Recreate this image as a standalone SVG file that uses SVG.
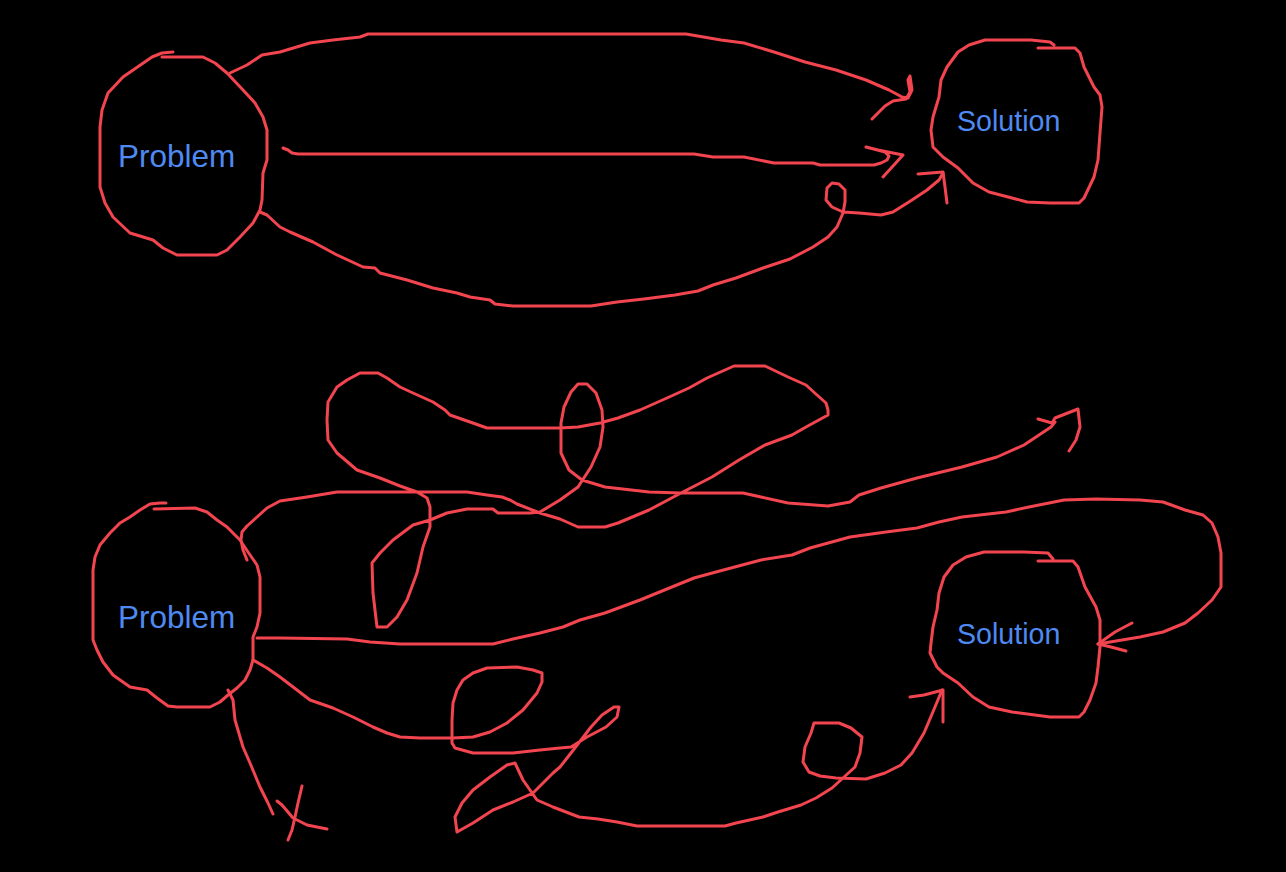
<svg xmlns="http://www.w3.org/2000/svg" width="1286" height="872" viewBox="0 0 1286 872">
<style>
.s{fill:none;stroke:#F2454F;stroke-width:3;stroke-linejoin:round;stroke-linecap:round}
.t{font-family:"Liberation Sans",Arial,sans-serif;fill:#4F8AF2}
</style>
<rect width="1286" height="872" fill="#000"/>
<g id="problem1">
<polyline class="s" points="173,52 162,53 152,57 123,77 108,93 102,110 100,127 100,187 105,203 113,217 130,233 153,240 163,248 177,255 217,255 227,250 240,237 253,223 260,210 262,200 263,173 267,160 267,130 263,117 255,103 243,90 227,73 215,63 203,57 162,57"/>
<text class="t" x="118" y="167" font-size="31.5">Problem</text>
</g>
<g id="solution1">
<polyline class="s" points="1054,45 1050,42 1031,40 985,40 969,45 958,52 947,67 941,80 939,97 933,117 931,130 933,147 943,157 958,168 973,183 989,192 1012,198 1027,202 1050,203 1079,203 1084,198 1094,177 1098,160 1100,133 1102,107 1100,95 1094,87 1084,67 1080,53 1075,48 1038,48"/>
<text class="t" x="957" y="131" font-size="28.6">Solution</text>
</g>
<g id="problem2">
<polyline class="s" points="166,503 160,503 150,504 140,510 130,517 120,523 110,533 100,545 95,557 93,570 93,640 97,650 103,662 113,675 130,687 147,690 157,698 168,706 177,707 210,707 220,702 228,695 237,688 245,680 250,670 253,660 253,650 253,637 257,627 260,613 260,577 257,565 248,552 240,540 227,527 217,520 207,512 195,508 154,509"/>
<text class="t" x="118" y="628" font-size="31.5">Problem</text>
</g>
<g id="solution2">
<polyline class="s" points="1053,559 1048,553 1024,552 984,552 966,557 953,565 944,577 939,593 937,610 933,627 931,643 930,653 937,667 943,673 958,683 973,697 989,707 1012,712 1035,715 1050,717 1079,717 1084,712 1090,700 1096,683 1098,667 1100,647 1100,620 1096,607 1085,587 1078,567 1073,561 1038,561"/>
<text class="t" x="957" y="644" font-size="28.6">Solution</text>
</g>
<g id="connectors">
<polyline class="s" points="230,73 247,65 262,55 280,52 310,43 333,40 360,37 368,34 580,34 686,34 721,40 744,43 774,52 805,62 836,70 866,80 889,90 902,97 908,98 912,90 910,76 908,80 910,92 906,99 893,101 885,106 872,119"/>
<polyline class="s" points="283,148 288,150 292,153 298,154 580,154 694,154 713,157 744,157 774,163 813,163 820,165 874,165 881,163 887,160 889,156 885,152 866,147 878,150 903,155 883,177"/>
<polyline class="s" points="260,212 267,215 280,227 290,232 313,242 337,255 363,267 375,268 380,273 407,280 433,288 457,293 470,297 490,300 495,304 513,306 591,306 617,302 644,299 675,295 698,291 713,285 736,278 763,268 790,259 813,247 828,237 837,227 843,213 845,202 845,190 839,184 832,183 827,188 826,200 832,207 843,212 859,213 881,215 893,212 912,200 927,190 939,180 943,173"/>
<polyline class="s" points="918,174 943,172 945,187 947,203"/>
<polyline class="s" points="247,560 243,550 241,540 242,532 247,526 257,517 267,508 280,501 307,497 337,492 423,492 467,492 487,495 502,497 510,500 517,504 540,513 560,519 578,527 605,527 618,523 649,510 681,493 712,477 739,460 765,445 792,435 806,427 828,415 828,410 826,403 817,395 806,385 788,377 765,366 734,366 707,378 689,388 667,398 640,410 618,418 600,423 578,427 560,428 487,428 470,422 450,415 445,410 433,402 413,393 400,387 387,378 378,373 360,373 347,380 337,387 328,402 327,420 328,440 337,453 357,470 380,478 400,486 417,492 427,498 430,507 430,527 423,547 417,573 407,600 397,617 387,627 377,627 373,593 372,563 380,553 393,540 413,525 430,520 447,513 467,509 493,509 498,513 530,513 540,512 560,500 578,487 591,467 600,447 603,427 602,410 596,393 587,384 578,384 571,392 564,407 561,423 561,453 569,470 582,480 605,487 649,492 681,493 743,493 761,497 788,503 828,506 850,502 859,495 881,488 917,478 962,467 997,457 1024,445 1051,427 1055,422"/>
<polyline class="s" points="1038,419 1052,423 1055,418 1078,409 1080,427 1076,440 1069,451"/>
<polyline class="s" points="257,638 280,638 347,639 370,642 400,644 493,644 513,639 540,633 563,627 580,620 605,613 640,600 694,578 716,572 761,560 792,555 810,548 850,537 886,532 917,528 939,522 962,517 1006,512 1029,507 1064,500 1096,499 1140,500 1163,502 1185,510 1203,515 1212,523 1218,537 1221,553 1221,587 1212,600 1198,613 1185,623 1163,632 1140,637 1122,640 1098,644"/>
<polyline class="s" points="1132,623 1115,632 1098,644 1111,647 1126,651"/>
<polyline class="s" points="253,660 267,668 280,677 297,690 310,700 333,708 353,717 373,727 387,733 400,737 420,738 453,738 473,737 490,732 507,723 523,710 537,693 542,682 542,673 533,670 517,667 487,668 473,673 463,680 457,690 453,703 452,720 452,743 455,748 473,753 513,753 540,750 560,748 571,747 587,737 606,727 617,717 619,707 614,707 602,715 591,727 581,740 571,753 560,767 553,773 533,793 513,802 493,810 473,823 457,832 455,817 462,803 473,790 490,777 507,765 515,763 523,780 537,800 553,807 579,817 598,819 617,822 637,826 725,826 736,823 763,817 778,812 801,805 816,798 832,788 843,778 855,767 860,753 862,737 851,728 839,723 814,723 811,733 805,747 803,762 809,772 820,776 836,778 866,779 885,773 901,765 912,753 924,733 935,707 942,690"/>
<polyline class="s" points="910,697 924,695 943,690 943,722"/>
<polyline class="s" points="228,690 233,700 235,720 243,747 250,763 260,787 268,803 273,814"/>
<polyline class="s" points="302,786 298,803 295,817 292,830 288,840"/>
<polyline class="s" points="277,801 282,805 293,818 307,825 327,829"/>
</g>
</svg>
